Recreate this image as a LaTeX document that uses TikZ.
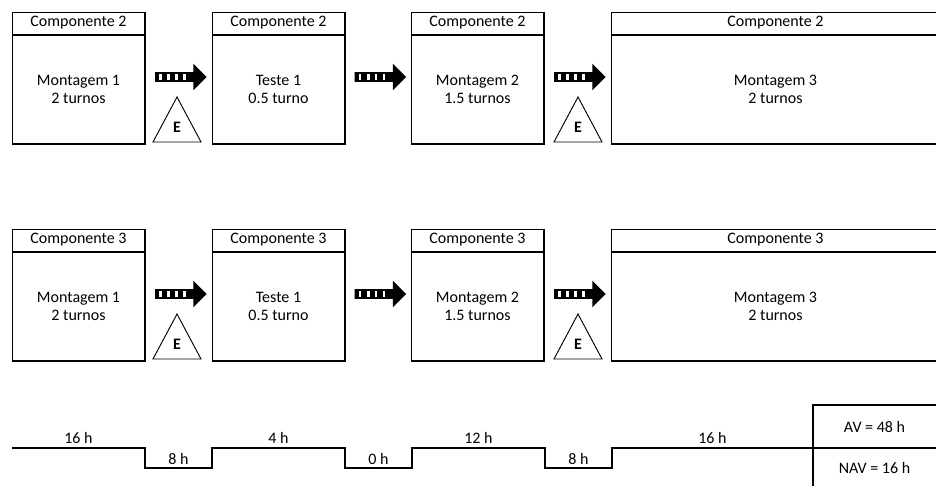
\documentclass[tikz,border=0pt]{standalone}
\usepackage{fontspec}
\setmainfont{Carlito}
\usetikzlibrary{shapes.arrows}
\begin{document}
\begin{tikzpicture}[x=0.75pt,y=-0.75pt,
  txt/.style={font=\fontsize{12}{13.5}\selectfont},
  hdr/.style={txt, draw, line width=0.7pt, minimum height=16.5pt, inner sep=0pt, outer sep=0pt},
  bdy/.style={txt, draw, line width=0.7pt, minimum height=81.75pt, inner sep=0pt, outer sep=0pt, align=center},
  heavy/.style={line width=2pt},
  flow/.style={single arrow, fill=black, draw=none, minimum height=38.7pt, minimum width=0pt,
    inner xsep=0pt, inner ysep=3.4pt, single arrow head extend=6.4pt, single arrow tip angle=90},
  stripe/.style={fill=white},
  tri/.style={line width=0.7pt},
  lbl/.style={txt, inner sep=0pt},
  emark/.style={font=\fontsize{12}{13.5}\selectfont\bfseries, inner sep=0pt},
  tline/.style={line width=1.5pt}]
\clip (0,0) rectangle (936,486);
\foreach \r/\dy/\c in {1/0/2,2/217/3}{
  \foreach \i/\x/\w/\t/\u in {1/78.5/99.75/Montagem 1/2 turnos,2/278.5/99.75/Teste 1/0.5 turno,3/477.5/99.75/Montagem 2/1.5 turnos,4/775.5/246.75/Montagem 3/2 turnos}{
    \node[hdr, minimum width=\w pt] (h\r-\i) at (\x,23+\dy) {Componente \c};
    \node[bdy, minimum width=\w pt] (b\r-\i) at (\x,89.5+\dy) {\t\\\u};
    \draw[heavy] (h\r-\i.north east) -- (b\r-\i.south east) -- (b\r-\i.south west);
    \draw[heavy] (b\r-\i.north west) -- (b\r-\i.north east);
  }
  \foreach \k/\ax in {1/178.5,2/378,3/577.5}{
    \node[flow] (a\r-\k) at (\ax,77+\dy) {};
    \foreach \s in {-19.5,-11.2,-3.5,4.5}{
      \fill[stripe] ([shift={(\s,-3)}]a\r-\k.center) rectangle +(2.7,6);
    }
  }
  \foreach \k/\tx in {1/177,3/578}{
    \node[emark] (e\r-\k) at (\tx,127+\dy) {E};
    \draw[tri] (\tx,97+\dy) -- (\tx-24,142+\dy) -- (\tx+24,142+\dy) -- cycle;
  }
}
% timeline
\draw[tline] (12,448) -| (145,468) -| (212,448) -| (345,468) -| (412,448) -| (545,468) -| (612,448) -- (813,448);
\draw[line width=1pt] (813,448) -- (936,448);
\draw[tline] (813,486) -- (813,405) -- (936,405);
\node[lbl] (t1) at (78.5,438) {16 h};
\node[lbl] (t2) at (178.5,459) {8 h};
\node[lbl] (t3) at (278.5,438) {4 h};
\node[lbl] (t4) at (378.5,459) {0 h};
\node[lbl] (t5) at (478.5,438) {12 h};
\node[lbl] (t6) at (578.5,459) {8 h};
\node[lbl] (t7) at (712.5,438) {16 h};
\node[lbl] (av) at (874.5,427) {AV = 48 h};
\node[lbl] (nav) at (874.5,468) {NAV = 16 h};
\end{tikzpicture}
\end{document}
